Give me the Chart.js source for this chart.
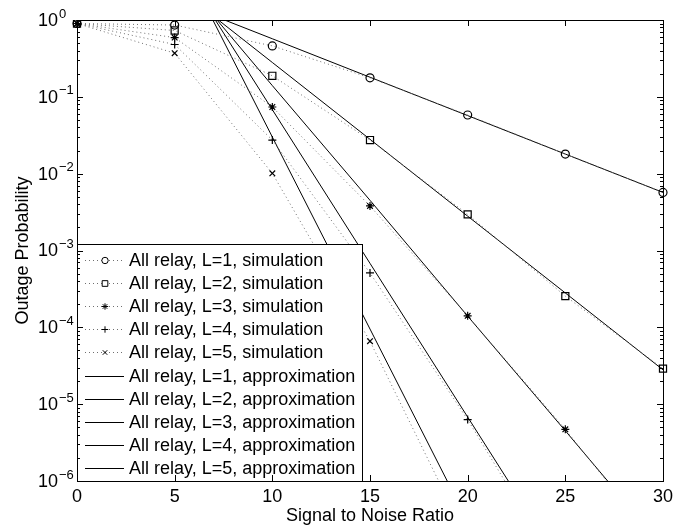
<!DOCTYPE html>
<html>
<head>
<meta charset="utf-8">
<script src="https://cdn.jsdelivr.net/npm/chart.js@4.4.1/dist/chart.umd.min.js"></script>
<style>
  html, body { margin: 0; padding: 0; background: #fff; }
  #wrap { width: 689px; height: 527px; }
</style>
</head>
<body>
<div id="wrap"><canvas id="outage" width="689" height="527"></canvas></div>
<script>
/* ---- data ---- */
const snrSim = [0, 5, 10, 15, 20, 25, 30];
const simL1 = [0.9, 0.86, 0.46, 0.177, 0.058, 0.018, 0.0057];
const simL2 = [0.9, 0.73, 0.188, 0.0274, 0.00295, 2.55e-4, 2.9e-5];
const simL3 = [0.9, 0.59, 0.0737, 0.0038, 1.41e-4, 4.7e-6, 1.2e-7];
const simL4 = [0.9, 0.48, 0.0274, 5.1e-4, 6.3e-6, 5e-8, null];
const simL5 = [0.9, 0.37, 0.0101, 6.6e-5, 1.7e-7, null, null];

const snrApprox = [5, 10, 15, 20, 25, 30];
const approxL1 = [1.8, 0.57, 0.18, 0.057, 0.018, 0.0057];
const approxL2 = [2.8, 0.28, 0.028, 0.0028, 2.8e-4, 2.8e-5];
const approxL3 = [4.5, 0.14, 0.0045, 1.4e-4, 4.5e-6, 1.4e-7];
const approxL4 = [6.8, 0.068, 6.8e-4, 6.8e-6, 6.8e-8, 6.8e-10];
const approxL5 = [9.5, 0.030, 9.5e-5, 3.0e-7, 9.5e-10, 3e-12];

const xTicks = [0, 5, 10, 15, 20, 25, 30];
const yExponents = [0, -1, -2, -3, -4, -5, -6];
const simMarkers = ['circle', 'rect', 'star', 'cross', 'crossRot'];
const simRadius = [4, 5, 4, 4, 4];

const FONT = "'Liberation Sans', Arial, Helvetica, sans-serif";

function pts(xs, ys) {
    return xs.map((x, i) => ({ x, y: ys[i] }));
}

const simSeries = [simL1, simL2, simL3, simL4, simL5];
const approxSeries = [approxL1, approxL2, approxL3, approxL4, approxL5];

const datasets = [];
simSeries.forEach((s, i) => {
    datasets.push({
        label: 'All relay, L=' + (i + 1) + ', simulation',
        data: pts(snrSim, s),
        showLine: true,
        borderColor: '#6f6f6f',
        borderWidth: 1,
        borderDash: [1, 3],
        pointStyle: simMarkers[i],
        pointRadius: simRadius[i],
        pointBorderColor: '#000',
        pointBackgroundColor: 'rgba(0,0,0,0)',
        pointBorderWidth: 1.2,
        spanGaps: false,
        clip: { left: 10, right: 10, top: 0, bottom: 0 },
    });
});
approxSeries.forEach((s, i) => {
    datasets.push({
        label: 'All relay, L=' + (i + 1) + ', approximation',
        data: pts(snrApprox, s),
        showLine: true,
        borderColor: '#000',
        borderWidth: 1,
        pointRadius: 0,
        clip: { left: 10, right: 10, top: 0, bottom: 0 },
    });
});

/* ---- matlab-style box, inward ticks, labels and legend ---- */
const matlabAxes = {
    id: 'matlabAxes',
    afterDatasetsDraw(chart) {
        const ctx = chart.ctx;
        const a = chart.chartArea;
        const xs = chart.scales.x;
        const ys = chart.scales.y;
        ctx.save();

        // legend box
        const lx = a.left, ly = 244, lw = 285, lh = a.bottom - ly;
        ctx.fillStyle = '#fff';
        ctx.fillRect(lx, ly, lw, lh);
        ctx.strokeStyle = '#000';
        ctx.lineWidth = 1;
        ctx.strokeRect(lx + 0.5, ly + 0.5, lw, lh);
        ctx.font = '18px ' + FONT;
        ctx.textBaseline = 'middle';
        ctx.textAlign = 'left';
        chart.data.datasets.forEach((ds, i) => {
            const y = Math.round(259.5 + i * 23.2) + 0.5;
            ctx.strokeStyle = ds.borderColor;
            ctx.lineWidth = 1;
            ctx.setLineDash(ds.borderDash || []);
            ctx.beginPath();
            ctx.moveTo(85, y);
            ctx.lineTo(124, y);
            ctx.stroke();
            ctx.setLineDash([]);
            if (ds.pointRadius > 0) {
                ctx.strokeStyle = '#000';
                ctx.fillStyle = '#fff';
                Chart.helpers.drawPoint(ctx, {
                    pointStyle: ds.pointStyle,
                    radius: ds.pointRadius * 0.8,
                    borderWidth: 1,
                    rotation: 0,
                }, 105, y);
            }
            ctx.fillStyle = '#000';
            ctx.fillText(ds.label, 129, y + 1);
        });

        // frame
        ctx.strokeStyle = '#000';
        ctx.lineWidth = 1;
        ctx.strokeRect(a.left + 0.5, a.top + 0.5, a.right - a.left, a.bottom - a.top);

        // x ticks (inward, top and bottom)
        ctx.beginPath();
        xTicks.forEach(v => {
            const px = Math.round(xs.getPixelForValue(v)) + 0.5;
            ctx.moveTo(px, a.bottom);
            ctx.lineTo(px, a.bottom - 6);
            ctx.moveTo(px, a.top);
            ctx.lineTo(px, a.top + 6);
        });
        // y ticks, major and minor, left and right
        yExponents.forEach(e => {
            const py = Math.round(ys.getPixelForValue(Math.pow(10, e))) + 0.5;
            ctx.moveTo(a.left, py);
            ctx.lineTo(a.left + 6, py);
            ctx.moveTo(a.right, py);
            ctx.lineTo(a.right - 6, py);
        });
        yExponents.slice(1).forEach(e => {
            for (let m = 2; m <= 9; m++) {
                const py = Math.round(ys.getPixelForValue(m * Math.pow(10, e))) + 0.5;
                ctx.moveTo(a.left, py);
                ctx.lineTo(a.left + 3, py);
                ctx.moveTo(a.right, py);
                ctx.lineTo(a.right - 3, py);
            }
        });
        ctx.stroke();

        ctx.fillStyle = '#000';
        ctx.font = '18px ' + FONT;
        ctx.textAlign = 'center';
        ctx.textBaseline = 'middle';
        xTicks.forEach(v => {
            ctx.fillText(String(v), xs.getPixelForValue(v), 497);
        });

        yExponents.forEach(e => {
            const py = ys.getPixelForValue(Math.pow(10, e));
            ctx.font = '18px ' + FONT;
            ctx.textAlign = 'right';
            ctx.fillText('10', 58, py + 1);
            ctx.font = '13px ' + FONT;
            ctx.textAlign = 'left';
            ctx.fillText(e === 0 ? '0' : '\u2212' + Math.abs(e), 59, py - 6);
        });

        // axis titles
        ctx.font = '18px ' + FONT;
        ctx.textAlign = 'center';
        ctx.fillText('Signal to Noise Ratio', (a.left + a.right) / 2, 516);
        ctx.translate(23, (a.top + a.bottom) / 2);
        ctx.rotate(-Math.PI / 2);
        ctx.fillText('Outage Probability', 0, 0);
        ctx.restore();
    },
};

new Chart(document.getElementById('outage'), {
    type: 'scatter',
    data: { datasets },
    options: {
        responsive: false,
        animation: false,
        layout: { padding: { left: 77, top: 20, right: 26, bottom: 46 } },
        plugins: { legend: { display: false }, tooltip: { enabled: false } },
        scales: {
            x: { type: 'linear', min: 0, max: 30, display: false },
            y: { type: 'logarithmic', min: 1e-6, max: 1, display: false },
        },
    },
    plugins: [matlabAxes],
});
</script>
</body>
</html>
